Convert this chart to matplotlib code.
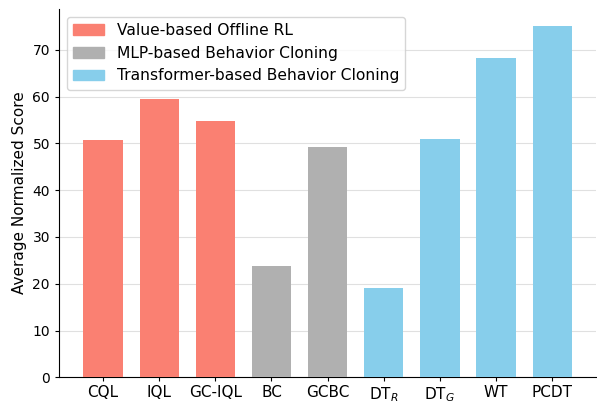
import matplotlib
matplotlib.use('Agg')
import matplotlib.pyplot as plt

# Tên phương pháp và điểm trung bình
methods = ['CQL', 'IQL', 'GC-IQL', 'BC', 'GCBC', 'DT$_R$', 'DT$_G$', 'WT', 'PCDT']
scores = [50.7, 59.4, 54.7, 23.7, 49.2, 19.0, 50.9, 68.2, 75.0]
groups = [0, 0, 0, 1, 1, 2, 2, 2, 2]
group_names = ['Value-based Offline RL', 'MLP-based Behavior Cloning',
               'Transformer-based Behavior Cloning']
group_colors = ['salmon', '#b0b0b0', 'skyblue']

fig = plt.figure(figsize=(5.97, 4.04), dpi=100)
ax = fig.add_axes([0.0988, 0.066, 0.9, 0.912])

x = range(len(methods))
colors = [group_colors[g] for g in groups]
ax.bar(x, scores, width=0.7, color=colors, zorder=3)

# Legend: một ô cho mỗi nhóm
handles = [plt.Rectangle((0, 0), 1, 1, color=c) for c in group_colors]
ax.legend(handles, group_names, loc='upper left', fontsize=11.2)

ax.set_xticks(list(x))
ax.set_xticklabels(methods, fontsize=11)
ax.tick_params(axis='x', length=3, pad=2.5)
ax.tick_params(axis='y', labelsize=10, length=3)
ax.set_ylabel('Average Normalized Score', fontsize=11)
ax.yaxis.grid(True, color='#e0e0e0', linewidth=0.8, zorder=0)
ax.spines['top'].set_visible(False)
ax.spines['right'].set_visible(False)

fig.savefig('out.png', dpi=100)
